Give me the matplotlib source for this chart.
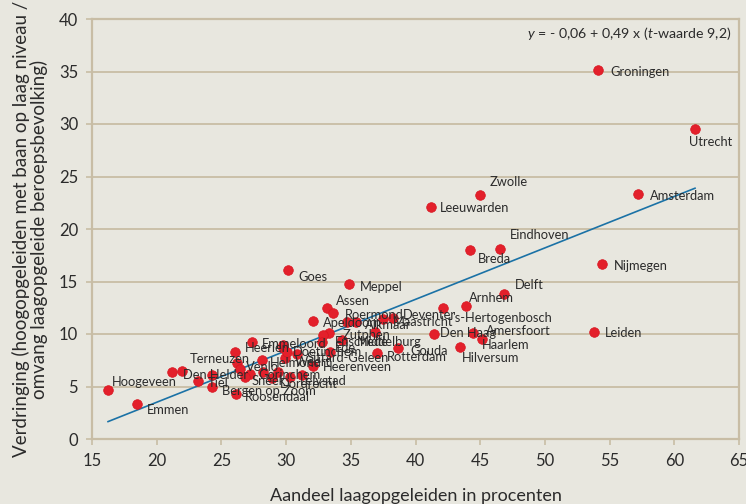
import matplotlib
matplotlib.use("Agg")
import matplotlib.pyplot as plt
import numpy as np

plt.rcParams['font.family'] = ['Lato', 'DejaVu Sans']
plt.rcParams['mathtext.fontset'] = 'custom'
plt.rcParams['mathtext.it'] = 'Lato:italic'
plt.rcParams['mathtext.rm'] = 'Lato'

# ---- data ----
cities = ["Groningen", "Utrecht", "Amsterdam", "Zwolle", "Leeuwarden", "Eindhoven", "Breda",
          "Nijmegen", "Goes", "Meppel", "Delft", "Arnhem", "'s-Hertogenbosch", "Den Haag",
          "Amersfoort", "Haarlem", "Hilversum", "Leiden", "Assen", "Apeldoorn", "Roermond",
          "Deventer", "Maastricht", "Alkmaar", "Zutphen", "Enschede", "Ede", "Middelburg",
          "Doetinchem", "Emmeloord", "Heerlen", "Terneuzen", "Weert", "Sittard-Geleen",
          "Rotterdam", "Gouda", "Helmond", "Venlo", "Heerenveen", "Gorinchem", "Lelystad",
          "Dordrecht", "Den Helder", "Tiel", "Bergen op Zoom", "Roosendaal", "Hoogeveen",
          "Emmen", "Sneek", "", "", "", "", "", "", "", "", "", ""]
laagopgeleid = [54.10, 61.60, 57.19, 44.98, 41.20, 46.53, 44.21,
                54.41, 30.15, 34.86, 46.84, 43.90, 42.13, 41.43,
                44.44, 45.14, 43.44, 53.79, 33.16, 32.08, 33.62,
                38.26, 37.49, 35.40, 33.32, 32.85, 32.77, 34.32,
                29.76, 27.36, 26.05, 26.21, 29.92, 30.84,
                37.02, 38.65, 28.14, 26.44, 32.08, 27.21, 30.30,
                28.91, 21.18, 23.19, 24.27, 26.13, 16.24,
                18.48, 26.82, 21.96, 28.21, 29.37, 31.23, 29.76, 36.87, 34.71, 33.39, 24.27, 30.07]
verdringing = [35.14, 29.52, 23.33, 23.24, 22.10, 18.10, 18.00,
               16.67, 16.10, 14.76, 13.81, 12.67, 12.48, 10.00,
               10.10, 9.52, 8.76, 10.19, 12.48, 11.24, 12.00,
               11.52, 11.43, 11.14, 10.10, 9.90, 9.24, 9.43,
               8.67, 9.24, 8.29, 7.24, 7.71, 8.10,
               8.19, 8.67, 7.52, 6.67, 6.95, 6.19, 5.90,
               5.81, 6.38, 5.52, 4.95, 4.29, 4.67,
               3.33, 5.90, 6.48, 6.38, 6.38, 6.10, 8.95, 10.19, 11.14, 8.29, 6.10, 8.29]
line_intercept = -6.3
line_slope = 0.49
x_ticks = [15, 20, 25, 30, 35, 40, 45, 50, 55, 60, 65]
y_ticks = [0, 5, 10, 15, 20, 25, 30, 35, 40]

# ---- label offsets (pixels: right, up) ----
offsets = {
    "Groningen": (12, -2), "Utrecht": (-6, -13), "Amsterdam": (12, -2), "Zwolle": (10, 13),
    "Leeuwarden": (9, -1), "Eindhoven": (10, 14), "Breda": (8, -9), "Nijmegen": (12, -2),
    "Goes": (10, -7), "Meppel": (11, -3), "Delft": (11, 9), "Arnhem": (3, 8),
    "'s-Hertogenbosch": (9, -10), "Den Haag": (6, 1), "Amersfoort": (13, 2), "Haarlem": (0, -6),
    "Hilversum": (2, -11), "Leiden": (11, -1), "Assen": (9, 7), "Apeldoorn": (10, -2),
    "Roermond": (12, -2), "Deventer": (10, 3), "Maastricht": (10, -3), "Alkmaar": (9, -3),
    "Zutphen": (14, -2), "Enschede": (12, -7), "Ede": (13, -6), "Middelburg": (15, -2),
    "Doetinchem": (10, -4), "Emmeloord": (10, -2), "Heerlen": (10, 4), "Terneuzen": (-47, 4),
    "Weert": (10, -4), "Sittard-Geleen": (10, -4), "Rotterdam": (10, -4), "Gouda": (12, -3),
    "Helmond": (8, -3), "Venlo": (6, 2), "Heerenveen": (10, -1), "Gorinchem": (8, -1),
    "Lelystad": (10, -4), "Dordrecht": (8, -6), "Den Helder": (11, -3), "Tiel": (10, -2),
    "Bergen op Zoom": (10, -4), "Roosendaal": (9, -3), "Hoogeveen": (4, 8), "Emmen": (10, -6),
    "Sneek": (7, -4),
}

bg = '#e8e7df'
tan = '#c8bda5'
red = '#e3202b'
blue = '#1b72a6'
txt = '#2b2b2b'

fig = plt.figure(figsize=(7.46, 5.04), dpi=100, facecolor=bg)
ax = fig.add_axes([92/746, 65/504, (739-92)/746, (439-19)/504])
ax.set_facecolor(bg)

ax.set_xlim(15, 65)
ax.set_ylim(0, 40)
ax.set_xticks(x_ticks)
ax.set_yticks(y_ticks)
ax.set_xticklabels([str(v) for v in x_ticks])
ax.set_yticklabels([str(v) for v in y_ticks])
ax.tick_params(axis='both', colors=tan, labelcolor=txt, labelsize=12, length=4, width=1.2)
ax.tick_params(axis='x', pad=6)
ax.tick_params(axis='y', pad=6)
for s in ax.spines.values():
    s.set_color(tan)
    s.set_linewidth(1.6)
ax.yaxis.grid(True, color=tan, linewidth=1.3)
ax.set_axisbelow(True)

# regression line
xs = np.array([min(laagopgeleid), max(laagopgeleid)])
ax.plot(xs, line_intercept + line_slope * xs, color=blue, lw=1.2, zorder=2)

ax.scatter(laagopgeleid, verdringing, s=48, color=red, edgecolor='#d8141f', linewidth=0.5, zorder=3)

for name, xv, yv in zip(cities, laagopgeleid, verdringing):
    if not name:
        continue
    dx, dy = offsets.get(name, (10, -2))
    ax.annotate(name, (xv, yv), xytext=(dx * 0.72, dy * 0.72), textcoords='offset points',
                ha='left', va='center', fontsize=9.3, color=txt, zorder=4)

ax.text(0.988, 0.965, r"$\it{y}$ = - 0,06 + 0,49 x ($\it{t}$-waarde 9,2)", transform=ax.transAxes,
        ha='right', va='center', fontsize=10.2, color=txt)

ax.set_xlabel("Aandeel laagopgeleiden in procenten", fontsize=13, color=txt, labelpad=14)
ax.set_ylabel("Verdringing (hoogopgeleiden met baan op laag niveau /\nomvang laagopgeleide beroepsbevolking)",
              fontsize=13.5, color=txt, labelpad=8, linespacing=0.95)

fig.savefig("out.png", dpi=100, facecolor=bg)
